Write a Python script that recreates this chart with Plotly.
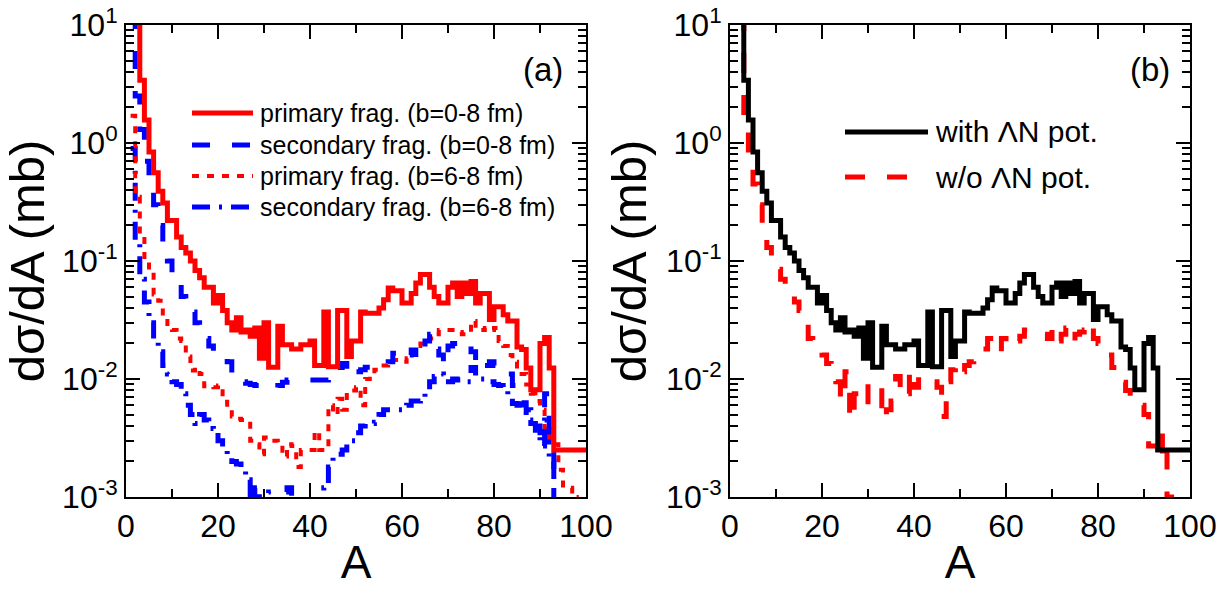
import plotly.graph_objects as go

# ---------------- data ----------------
# primary fragments b=0-8 fm  (identical to "with ΛN pot." in panel b), A = 2..100
A_prim08 = list(range(2, 101))
prim08 = [12, 3.4, 1.57, 0.84, 0.56, 0.39, 0.31, 0.22,                      # 2-9
          0.22, 0.16, 0.13, 0.117, 0.10, 0.083, 0.072, 0.060, 0.060, 0.044,  # 10-19
          0.051, 0.038, 0.030, 0.026, 0.033, 0.025, 0.026, 0.023, 0.027, 0.015,  # 20-29
          0.030, 0.0126, 0.0126, 0.028, 0.0195, 0.0195, 0.018, 0.018, 0.0195, 0.0195,  # 30-39
          0.021, 0.013, 0.013, 0.037, 0.0127, 0.0127, 0.038, 0.038, 0.0155, 0.021,  # 40-49
          0.021, 0.037, 0.036, 0.036, 0.036, 0.040, 0.047, 0.059, 0.056, 0.056,  # 50-59
          0.044, 0.044, 0.053, 0.065, 0.077, 0.077, 0.060, 0.050, 0.044, 0.044,  # 60-69
          0.060, 0.065, 0.050, 0.065, 0.053, 0.067, 0.044, 0.053, 0.053, 0.032,  # 70-79
          0.041, 0.041, 0.035, 0.031, 0.031, 0.0187, 0.0178, 0.0124, 0.0081, 0.0081,  # 80-89
          0.020, 0.0225, 0.0124, 0.0025, 0.0025, 0.0025, 0.0025, 0.0025, 0.0025, 0.0025,  # 90-99
          0.0025]  # 100

# secondary fragments b=0-8 fm, A = 1..93
A_sec08 = list(range(1, 94))
sec08 = [12, 2.5, 1.3, 0.7, 0.42, 0.30, 0.20, 0.145, 0.10,                 # 1-9
         0.075, 0.068, 0.050, 0.042, 0.037, 0.030, 0.026, 0.022, 0.019, 0.017,  # 10-19
         0.016, 0.0155, 0.014, 0.011, 0.0098, 0.0095, 0.0092, 0.009, 0.0088, 0.0088,  # 20-29
         0.0088, 0.0088, 0.0084, 0.0088, 0.0094, 0.0098, 0.0098, 0.0098, 0.0098, 0.0098,  # 30-39
         0.0098, 0.0098, 0.0098, 0.0098, 0.0103, 0.011, 0.0125, 0.0135, 0.012, 0.0105,  # 40-49
         0.0115, 0.012, 0.0126, 0.0126, 0.0126, 0.0126, 0.0126, 0.014, 0.0165, 0.0176,  # 50-59
         0.0176, 0.016, 0.0176, 0.015, 0.016, 0.021, 0.024, 0.018, 0.016, 0.013,  # 60-69
         0.019, 0.020, 0.020, 0.021, 0.020, 0.017, 0.014, 0.015, 0.013, 0.014,  # 70-79
         0.013, 0.012, 0.012, 0.011, 0.0088, 0.0075, 0.0063, 0.0055, 0.0046, 0.0040,  # 80-89
         0.0035, 0.0075, 0.0024, 0.0008]  # 90-93

# primary fragments b=6-8 fm, A = 1..98
A_prim68 = list(range(1, 99))
prim68 = [1.7, 0.35, 0.16, 0.10, 0.080, 0.052, 0.046, 0.034, 0.028,        # 1-9
          0.026, 0.022, 0.021, 0.0155, 0.0118, 0.0125, 0.011, 0.0087, 0.0086, 0.0085,  # 10-19
          0.0088, 0.0064, 0.0055, 0.0048, 0.0046, 0.0045, 0.0044, 0.0030, 0.0028, 0.0023,  # 20-29
          0.0032, 0.0030, 0.0030, 0.0029, 0.0022, 0.0028, 0.0027, 0.0018, 0.0025, 0.0025,  # 30-39
          0.0025, 0.0036, 0.0025, 0.0025, 0.0060, 0.0050, 0.0068, 0.0055, 0.0080, 0.0080,  # 40-49
          0.0085, 0.0060, 0.010, 0.0105, 0.012, 0.012, 0.013, 0.0145, 0.0145, 0.0145,  # 50-59
          0.014, 0.015, 0.017, 0.019, 0.020, 0.021, 0.022, 0.024, 0.026, 0.026,  # 60-69
          0.026, 0.026, 0.025, 0.024, 0.025, 0.031, 0.027, 0.026, 0.027, 0.026,  # 70-79
          0.027, 0.021, 0.019, 0.016, 0.014, 0.012, 0.011, 0.009, 0.0075, 0.0065,  # 80-89
          0.0055, 0.0038, 0.0032, 0.0028, 0.0017, 0.0012, 0.0012, 0.0010, 0.0008]  # 90-98

# secondary fragments b=6-8 fm, A = 1..93
A_sec68 = list(range(1, 94))
sec68 = [0.9, 0.15, 0.070, 0.045, 0.030, 0.022, 0.017, 0.013, 0.011,        # 1-9
         0.0095, 0.009, 0.0075, 0.006, 0.005, 0.0042, 0.005, 0.0045, 0.0038, 0.0035,  # 10-19
         0.0030, 0.0026, 0.0022, 0.0020, 0.0019, 0.0017, 0.0014, 0.0008, 0.0012, 0.0009,  # 20-29
         0.0008, 0.0011, 0.0009, 0.0008, 0.0011, 0.0012, 0.0009, 0.0008, 0.0009, 0.0008,  # 30-39
         0.0009, 0.0008, 0.0009, 0.0012, 0.0018, 0.0022, 0.0023, 0.0025, 0.0028, 0.0030,  # 40-49
         0.0035, 0.0040, 0.0042, 0.0042, 0.0043, 0.0050, 0.0055, 0.0055, 0.0055, 0.0055,  # 50-59
         0.0058, 0.0060, 0.0065, 0.0065, 0.0068, 0.0080, 0.0095, 0.0105, 0.011, 0.0095,  # 60-69
         0.0095, 0.010, 0.0098, 0.0095, 0.0095, 0.0125, 0.0105, 0.010, 0.010, 0.0095,  # 70-79
         0.009, 0.0088, 0.0085, 0.007, 0.0062, 0.006, 0.0055, 0.0045, 0.0042, 0.0035,  # 80-89
         0.0027, 0.0045, 0.0020, 0.0008]  # 90-93

# panel (b): without ΛN potential, A = 2..96
A_woLN = list(range(2, 97))
woLN = [12, 1.6, 0.8, 0.45, 0.30, 0.20, 0.13, 0.10,                          # 2-9
        0.085, 0.070, 0.058, 0.052, 0.045, 0.038, 0.032, 0.022, 0.018, 0.0175,  # 10-19
        0.016, 0.0135, 0.012, 0.0095, 0.0065, 0.0115, 0.0045, 0.0075, 0.006, 0.006,  # 20-29
        0.0094, 0.0094, 0.0094, 0.0045, 0.0055, 0.0065, 0.0105, 0.007, 0.0075, 0.012,  # 30-39
        0.0085, 0.0105, 0.0095, 0.0095, 0.0095, 0.0085, 0.0048, 0.0095, 0.012, 0.0135,  # 40-49
        0.0115, 0.013, 0.014, 0.0145, 0.016, 0.018, 0.022, 0.022, 0.017, 0.022,  # 50-59
        0.019, 0.019, 0.021, 0.023, 0.026, 0.026, 0.025, 0.024, 0.024, 0.022,  # 60-69
        0.027, 0.021, 0.024, 0.027, 0.021, 0.024, 0.025, 0.026, 0.030, 0.022,  # 70-79
        0.020, 0.018, 0.016, 0.0125, 0.0094, 0.0094, 0.008, 0.007, 0.0065, 0.006,  # 80-89
        0.005, 0.0027, 0.0027, 0.0020, 0.0035, 0.0010, 0.0007]  # 90-96

y_tickvals = [1e-3, 1e-2, 1e-1, 1e0, 1e1]
y_ticktext = ["10<sup>-3</sup>", "10<sup>-2</sup>", "10<sup>-1</sup>", "10<sup>0</sup>", "10<sup>1</sup>"]

legend_a = ["primary frag. (b=0-8 fm)", "secondary frag. (b=0-8 fm)",
            "primary frag. (b=6-8 fm)", "secondary frag. (b=6-8 fm)"]
legend_b = ["with \u039bN pot.", "w/o \u039bN pot."]

# ---------------- styles ----------------
RED = "#ff0000"
BLUE = "#0000ff"
BLACK = "#000000"
FONT = "Liberation Sans, Arial, sans-serif"

sty_a = [dict(color=RED, width=5, dash="solid"),
         dict(color=BLUE, width=5, dash="18px,22px"),
         dict(color=RED, width=4, dash="7px,8px"),
         dict(color=BLUE, width=5, dash="18px,9px,3px,9px")]
sty_b = [dict(color=BLACK, width=5, dash="solid"),
         dict(color=RED, width=5, dash="20px,22px")]

fig = go.Figure()

series_a = [(A_prim08, prim08), (A_sec08, sec08), (A_prim68, prim68), (A_sec68, sec68)]
order = [3, 2, 1, 0]
for i in order:
    xs, ys = series_a[i]
    fig.add_trace(go.Scatter(x=xs, y=ys, mode="lines", line_shape="hv",
                             line=sty_a[i], name=legend_a[i], showlegend=False,
                             xaxis="x", yaxis="y"))

series_b = [(A_prim08, prim08), (A_woLN, woLN)]
for i in [1, 0]:
    xs, ys = series_b[i]
    fig.add_trace(go.Scatter(x=xs, y=ys, mode="lines", line_shape="hv",
                             line=sty_b[i], name=legend_b[i], showlegend=False,
                             xaxis="x2", yaxis="y2"))

# ---------------- axes ----------------
W, H = 1230, 606
ax_l_a, ax_r_a = 126, 586
ax_l_b, ax_r_b = 730, 1190
ax_t, ax_b = 25, 497
ydom = [(H - ax_b) / H, (H - ax_t) / H]

def xaxis(dom, anchor):
    return dict(domain=dom, anchor=anchor, range=[0, 100], automargin=False,
                tickmode="linear", tick0=0, dtick=20,
                ticks="inside", ticklen=14, tickwidth=2, tickcolor=BLACK,
                minor=dict(tick0=0, dtick=10, ticks="inside", ticklen=8,
                           tickwidth=2, tickcolor=BLACK, showgrid=False),
                showline=True, linewidth=2, linecolor=BLACK, mirror="ticks",
                showgrid=False, zeroline=False,
                tickfont=dict(family=FONT, size=32, color=BLACK),
                title=dict(text="A", font=dict(family=FONT, size=46, color=BLACK), standoff=2))

def yaxis(anchor, standoff):
    return dict(domain=ydom, anchor=anchor, type="log", range=[-3, 1], automargin=False,
                tickmode="array", tickvals=y_tickvals, ticktext=y_ticktext,
                ticks="inside", ticklen=14, tickwidth=2, tickcolor=BLACK,
                minor=dict(tickmode="linear", dtick="D1", ticks="inside", ticklen=8,
                           tickwidth=2, tickcolor=BLACK, showgrid=False),
                showline=True, linewidth=2, linecolor=BLACK, mirror="ticks",
                showgrid=False, zeroline=False,
                tickfont=dict(family=FONT, size=32, color=BLACK),
                title=dict(text="d\u03c3/dA (mb)", font=dict(family=FONT, size=49, color=BLACK),
                           standoff=standoff))

fig.update_layout(
    template="none",
    width=W, height=H,
    margin=dict(l=0, r=0, t=0, b=0, autoexpand=False),
    paper_bgcolor="white", plot_bgcolor="white",
    font=dict(family=FONT, color=BLACK),
    showlegend=False,
    xaxis=xaxis([ax_l_a / W, ax_r_a / W], "y"),
    yaxis=yaxis("x", 4),
    xaxis2=xaxis([ax_l_b / W, ax_r_b / W], "y2"),
    yaxis2=yaxis("x2", 4),
)

# ---------------- panel labels and legends ----------------
def ydomfrac(ypx):
    return (ax_b - ypx) / (ax_b - ax_t)

shapes = []
annots = []

annots.append(dict(text="(a)", xref="x domain", yref="y domain",
                   x=(543 - ax_l_a) / (ax_r_a - ax_l_a), y=ydomfrac(70),
                   xanchor="center", yanchor="middle",
                   showarrow=False, font=dict(family=FONT, size=33, color=BLACK)))
annots.append(dict(text="(b)", xref="x2 domain", yref="y2 domain",
                   x=(1150 - ax_l_b) / (ax_r_b - ax_l_b), y=ydomfrac(70),
                   xanchor="center", yanchor="middle",
                   showarrow=False, font=dict(family=FONT, size=33, color=BLACK)))

rows_a = [113, 145, 176, 207]
for i, yp in enumerate(rows_a):
    yy = ydomfrac(yp)
    shapes.append(dict(type="line", xref="x domain", yref="y domain",
                       x0=(192 - ax_l_a) / 460, x1=(253 - ax_l_a) / 460, y0=yy, y1=yy,
                       line=sty_a[i]))
    annots.append(dict(text=legend_a[i], xref="x domain", yref="y domain",
                       x=(258 - ax_l_a) / 460, y=yy, xanchor="left", yanchor="middle",
                       showarrow=False, font=dict(family=FONT, size=25, color=BLACK)))

rows_b = [132, 177]
for i, yp in enumerate(rows_b):
    yy = ydomfrac(yp)
    shapes.append(dict(type="line", xref="x2 domain", yref="y2 domain",
                       x0=(845 - ax_l_b) / 460, x1=(928 - ax_l_b) / 460, y0=yy, y1=yy,
                       line=sty_b[i]))
    annots.append(dict(text=legend_b[i], xref="x2 domain", yref="y2 domain",
                       x=(933 - ax_l_b) / 460, y=yy, xanchor="left", yanchor="middle",
                       showarrow=False, font=dict(family=FONT, size=30, color=BLACK)))

fig.update_layout(shapes=shapes, annotations=annots)

fig.write_html("out.html", config={"displayModeBar": False},
               post_script="document.body.style.margin='0px';")
